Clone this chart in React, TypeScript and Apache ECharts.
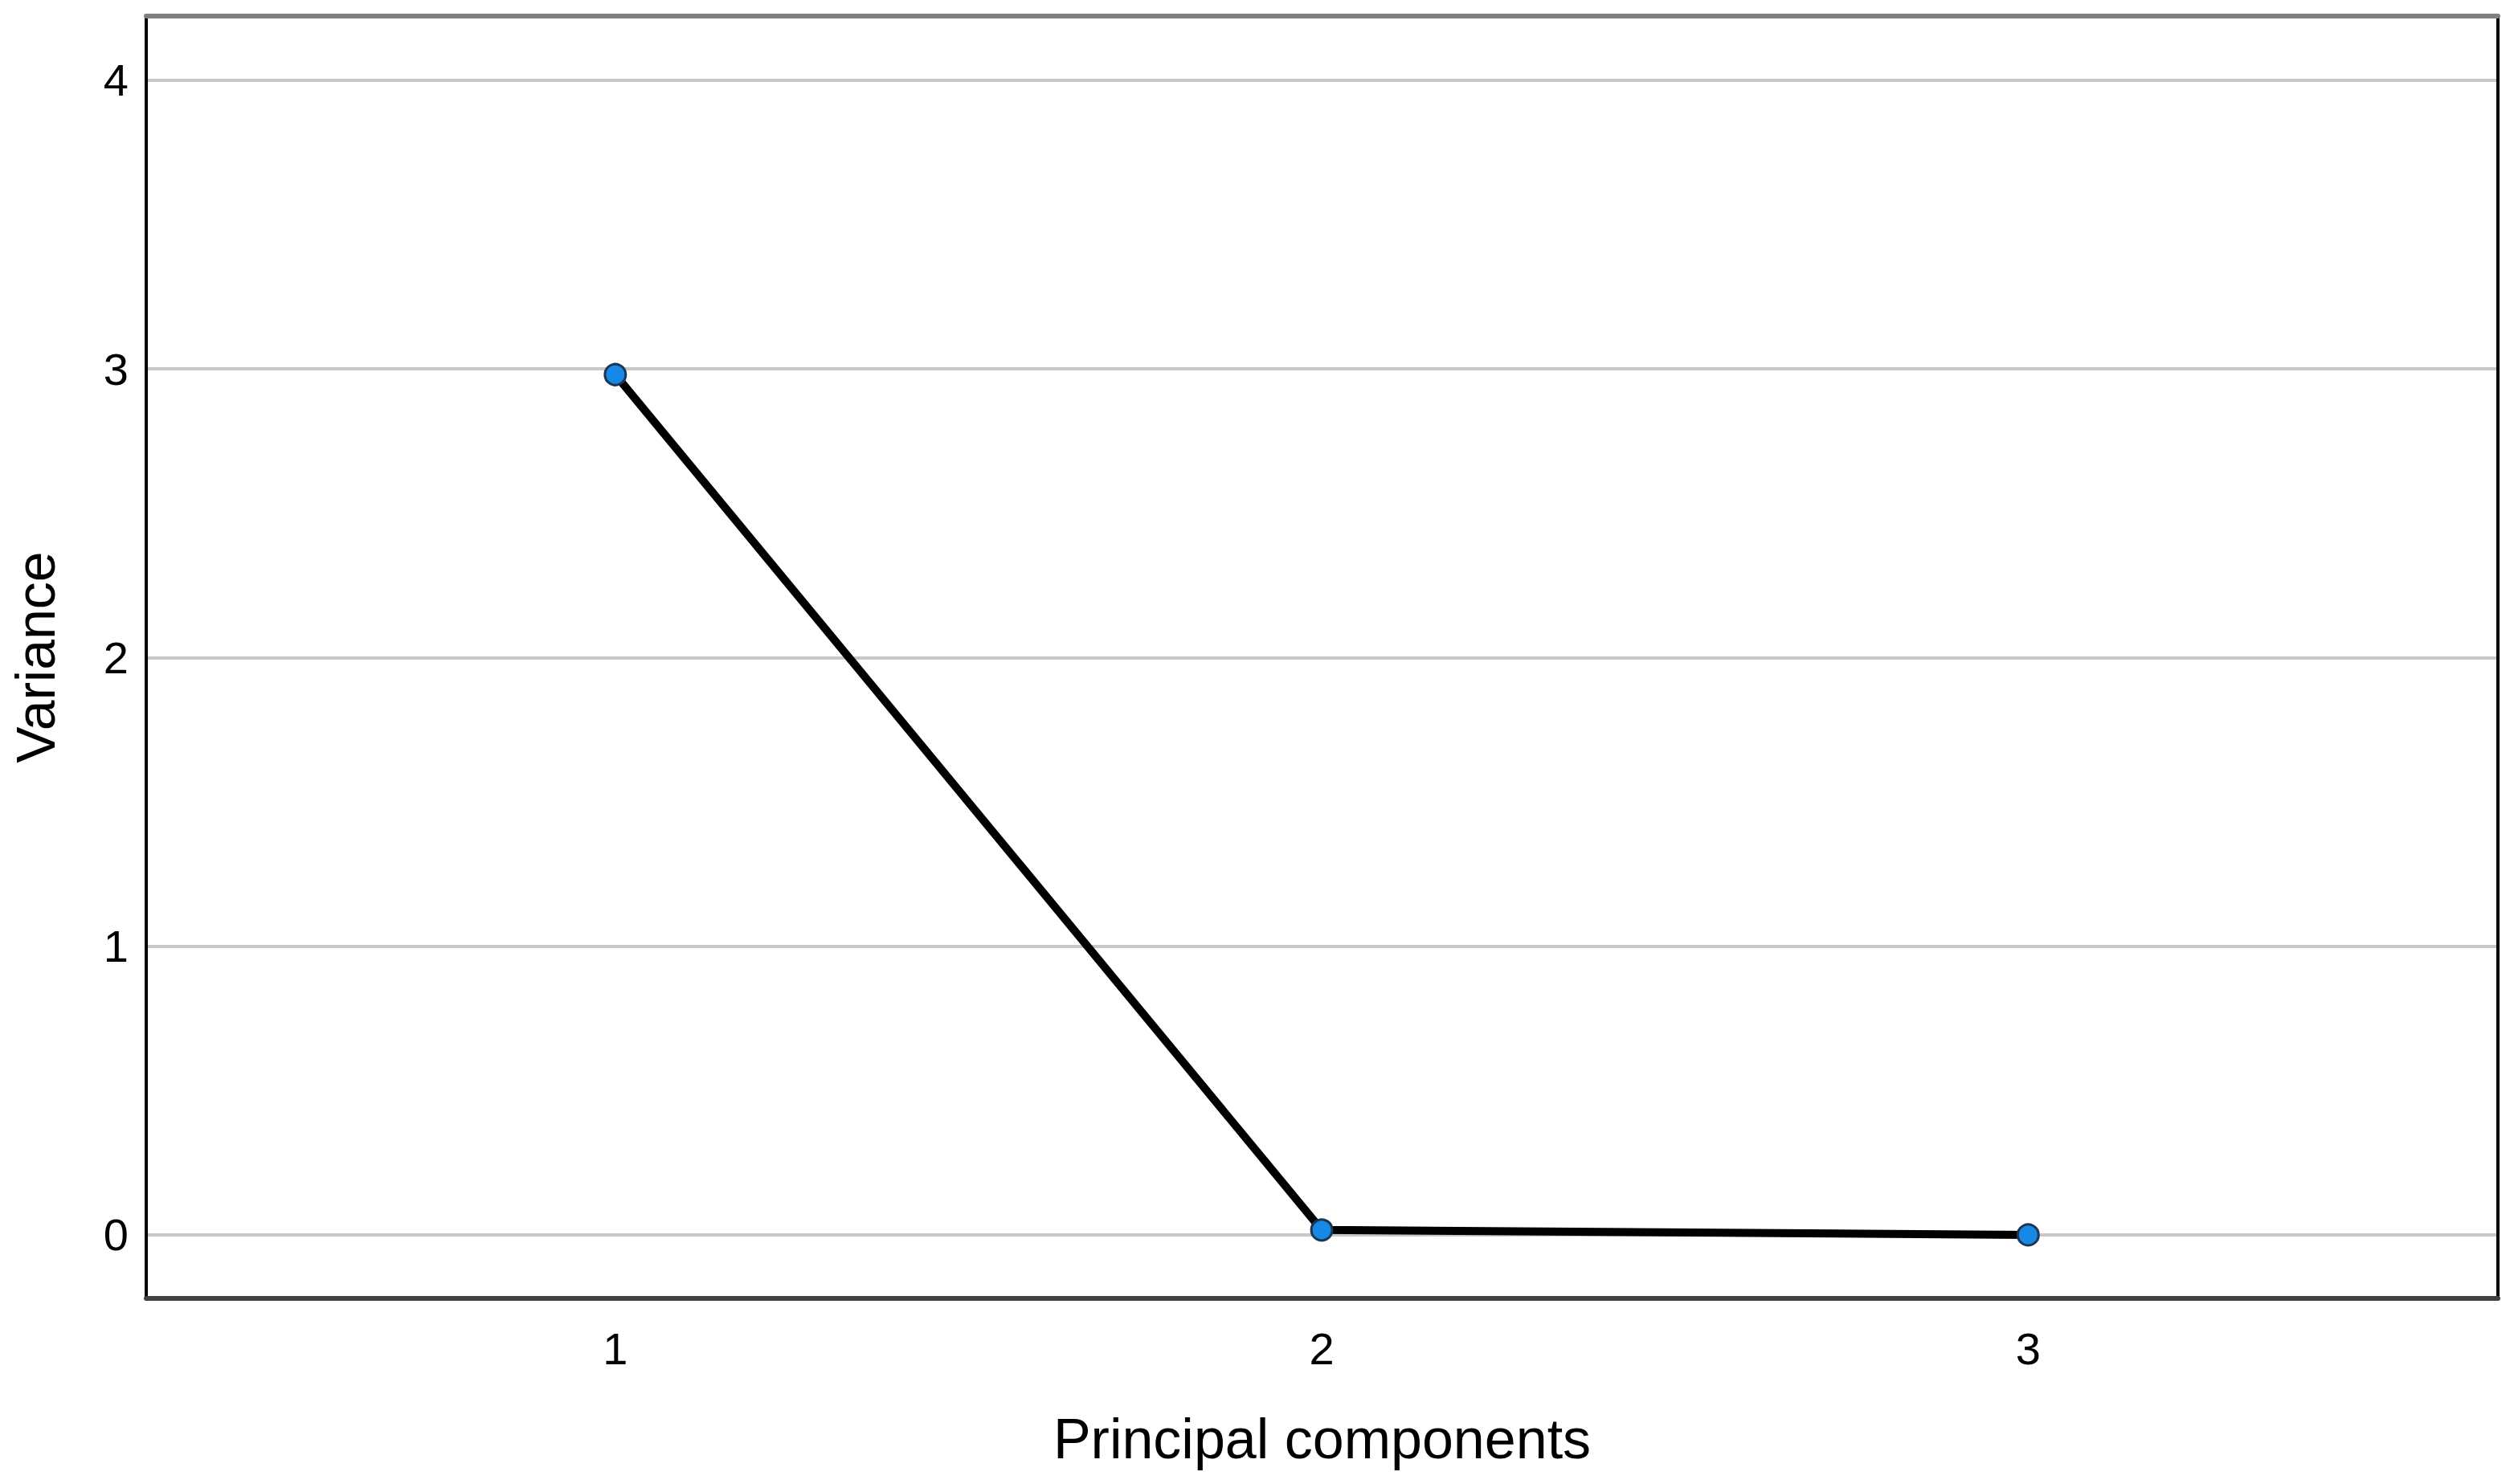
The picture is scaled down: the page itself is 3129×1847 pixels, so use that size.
import React, { useEffect, useRef } from "react";
import * as echarts from "echarts";

const components = [1, 2, 3];
const variance = [2.98, 0.017, 0.0];
const xTitle = "Principal components";
const yTitle = "Variance";

export default function App() {
  const ref = useRef<HTMLDivElement>(null);
  useEffect(() => {
    if (!ref.current) return;
    const chart = echarts.init(ref.current, null, { renderer: "svg" });
    const tickFont = "'Liberation Sans Narrow', 'Liberation Sans', Arial, sans-serif";
    const titleFont = "'Liberation Sans', Arial, sans-serif";
    const intFmt = (v: number) => (Math.abs(v - Math.round(v)) < 1e-9 ? String(Math.round(v)) : "");
    chart.setOption({
      animation: false,
      backgroundColor: "#ffffff",
      grid: { left: 182, right: 20, top: 20, bottom: 231, containLabel: false },
      xAxis: [
        {
          type: "value",
          min: 0.336,
          max: 3.665,
          splitNumber: 3,
          position: "bottom",
          name: xTitle,
          nameLocation: "middle",
          nameGap: 140,
          nameTextStyle: { fontFamily: titleFont, fontSize: 70, color: "#000" },
          axisLine: { show: true, onZero: false, lineStyle: { color: "#404040", width: 6 } },
          axisTick: { show: false },
          splitLine: { show: false },
          axisLabel: {
            formatter: intFmt,
            margin: 34,
            fontFamily: tickFont,
            fontSize: 56,
            color: "#000",
            showMinLabel: false,
            showMaxLabel: false,
          },
        },
        {
          type: "value",
          min: 0.336,
          max: 3.665,
          position: "top",
          axisLine: { show: true, onZero: false, lineStyle: { color: "#808080", width: 6 } },
          axisTick: { show: false },
          axisLabel: { show: false },
          splitLine: { show: false },
        },
      ],
      yAxis: [
        {
          type: "value",
          min: -0.22,
          max: 4.222,
          splitNumber: 5,
          position: "left",
          name: yTitle,
          nameLocation: "middle",
          nameGap: 104,
          nameTextStyle: { fontFamily: titleFont, fontSize: 68, color: "#000" },
          axisLine: { show: true, onZero: false, lineStyle: { color: "#000", width: 4 } },
          axisTick: { show: false },
          axisLabel: {
            formatter: intFmt,
            margin: 22,
            fontFamily: tickFont,
            fontSize: 56,
            color: "#000",
            showMinLabel: false,
            showMaxLabel: false,
          },
          splitLine: {
            show: true,
            showMinLine: false,
            showMaxLine: false,
            lineStyle: { color: "#c8c8c8", width: 4 },
          },
        },
        {
          type: "value",
          min: -0.22,
          max: 4.222,
          position: "right",
          axisLine: { show: true, onZero: false, lineStyle: { color: "#000", width: 4 } },
          axisTick: { show: false },
          axisLabel: { show: false },
          splitLine: { show: false },
        },
      ],
      series: [
        {
          type: "line",
          xAxisIndex: 0,
          yAxisIndex: 0,
          data: components.map((c, i) => [c, variance[i]]),
          symbol: "circle",
          symbolSize: 26,
          lineStyle: { color: "#000", width: 10 },
          itemStyle: { color: "#1589e3", borderColor: "#1c3550", borderWidth: 3 },
          z: 5,
        },
      ],
    });
    return () => chart.dispose();
  }, []);
  return (
    <div
      ref={ref}
      style={{ position: "fixed", left: 0, top: 0, width: 3129, height: 1847, background: "#fff" }}
    />
  );
}
